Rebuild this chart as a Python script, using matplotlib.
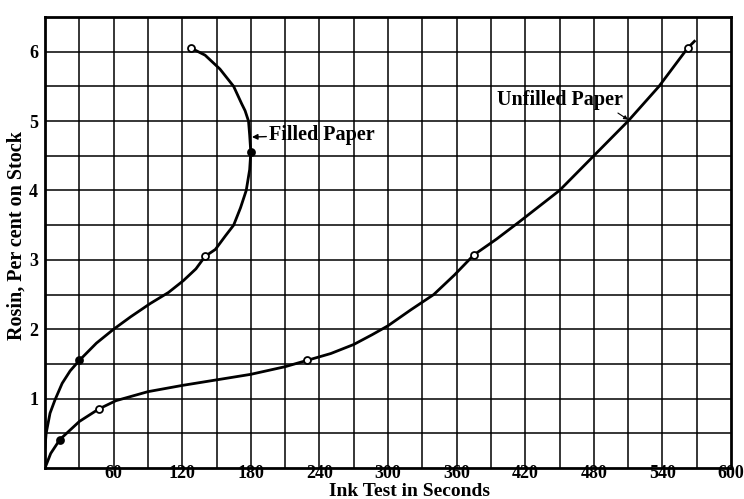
import matplotlib
matplotlib.use("Agg")
import matplotlib.pyplot as plt
import numpy as np

# Curves (seconds, rosin %)
filled_x = [0, 1, 4.4, 8.7, 15, 22, 30, 45, 60, 75, 92, 108, 121, 132, 140,
            149, 158, 165, 171, 176, 179, 180, 179, 178, 175, 172, 165, 153, 140, 128]
filled_y = [0.3, 0.5, 0.79, 0.98, 1.22, 1.4, 1.55, 1.8, 2.0, 2.18, 2.37, 2.53, 2.7, 2.87, 3.05,
            3.15, 3.35, 3.5, 3.75, 4.0, 4.3, 4.55, 4.8, 5.0, 5.15, 5.25, 5.5, 5.75, 5.95, 6.05]

unfilled_x = [0, 5, 13, 30, 47, 62, 90, 120, 150, 180, 210, 229, 250, 270, 286,
              300, 320, 340, 358, 375, 395, 415, 450, 480, 510, 537, 562, 568]
unfilled_y = [0, 0.21, 0.41, 0.67, 0.85, 0.97, 1.1, 1.19, 1.27, 1.35, 1.46, 1.55, 1.65, 1.78, 1.92,
              2.05, 2.28, 2.5, 2.78, 3.07, 3.3, 3.55, 4.0, 4.5, 5.0, 5.5, 6.05, 6.15]

# Observed points (marked on the curves)
filled_pts_x = [30, 140, 180, 128]
filled_pts_y = [1.55, 3.05, 4.55, 6.05]
filled_pts_solid = [True, False, True, False]

unfilled_pts_x = [13, 47, 229, 375, 562]
unfilled_pts_y = [0.41, 0.85, 1.55, 3.07, 6.05]
unfilled_pts_solid = [True, False, False, False, False]

x_ticks = [60, 120, 180, 240, 300, 360, 420, 480, 540, 600]
y_ticks = [1, 2, 3, 4, 5, 6]

font = "Liberation Serif"

fig = plt.figure(figsize=(7.44, 4.99), dpi=100)
ax = fig.add_axes([45 / 744, 1 - 468 / 499, 686 / 744, 451 / 499])

# graph-paper grid
for gx in np.arange(30, 600, 30):
    ax.axvline(gx, color="black", lw=1.1, zorder=1)
for gy in np.arange(0.5, 6.5, 0.5):
    ax.axhline(gy, color="black", lw=1.1, zorder=1)

ax.plot(filled_x, filled_y, color="black", lw=2.0, zorder=3)
ax.plot(unfilled_x, unfilled_y, color="black", lw=2.0, zorder=3)

for px, py, solid in zip(filled_pts_x + unfilled_pts_x,
                         filled_pts_y + unfilled_pts_y,
                         filled_pts_solid + unfilled_pts_solid):
    ax.plot(px, py, "o", ms=5, mec="black", mew=1.3,
            mfc="black" if solid else "white", zorder=4)

ax.set_xlim(0, 600)
ax.set_ylim(0, 6.5)
ax.set_xticks(x_ticks)
ax.set_yticks(y_ticks)
ax.set_xticklabels([str(t) for t in x_ticks], fontfamily=font, fontweight="bold", fontsize=13)
ax.set_yticklabels([str(t) for t in y_ticks], fontfamily=font, fontweight="bold", fontsize=13)
ax.tick_params(axis="x", length=0, pad=-2)
ax.tick_params(axis="y", length=0, pad=5)
for s in ax.spines.values():
    s.set_linewidth(2.0)

ax.annotate("Filled Paper", xy=(181, 4.77), xytext=(196, 4.8),
            fontfamily=font, fontweight="bold", fontsize=14.5, va="center",
            arrowprops=dict(arrowstyle="-|>", color="black", lw=1.0, mutation_scale=8,
                            shrinkA=0, shrinkB=0))
ax.annotate("Unfilled Paper", xy=(510, 5.02), xytext=(395, 5.3),
            fontfamily=font, fontweight="bold", fontsize=14.5, va="center",
            arrowprops=dict(arrowstyle="-|>", color="black", lw=0.8, mutation_scale=6,
                            shrinkA=0, shrinkB=0, relpos=(0.93, 0.0)))

fig.text(410 / 744, 1 - 496 / 499, "Ink Test in Seconds", fontfamily=font,
         fontweight="bold", fontsize=14, ha="center", va="baseline")
fig.text(17 / 744, 1 - 236 / 499, "Rosin, Per cent on Stock", fontfamily=font,
         fontweight="bold", fontsize=14.5, ha="center", va="center", rotation=90)

fig.savefig("out.png", dpi=100)
